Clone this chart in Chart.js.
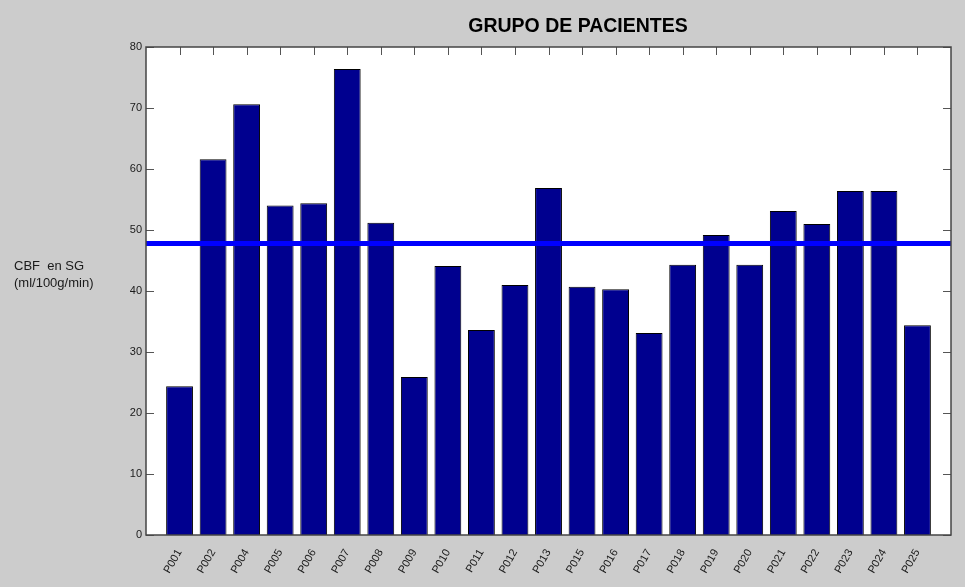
<!DOCTYPE html>
<html>
<head>
<meta charset="utf-8">
<title>Grupo de pacientes</title>
<script src="https://cdn.jsdelivr.net/npm/chart.js@4.4.1/dist/chart.umd.min.js"></script>
<style>
  html, body { margin: 0; padding: 0; background: #cccccc; }
  #wrap { width: 965px; height: 587px; position: relative; }
</style>
</head>
<body>
<div id="wrap"><canvas id="cbfchart"></canvas></div>
<script>
// data
var patients = ['P001', 'P002', 'P004', 'P005', 'P006', 'P007', 'P008', 'P009', 'P010', 'P011', 'P012', 'P013',
                'P015', 'P016', 'P017', 'P018', 'P019', 'P020', 'P021', 'P022', 'P023', 'P024', 'P025'];
var cbfValues = [24.4, 61.6, 70.6, 54.0, 54.4, 76.4, 51.2, 25.9, 44.1, 33.6, 41.0, 56.9,
                 40.7, 40.3, 33.1, 44.3, 49.2, 44.3, 53.1, 51.0, 56.4, 56.4, 34.4];
var meanCbf = 47.8;
var yTicks = [0, 10, 20, 30, 40, 50, 60, 70, 80];
var chartTitle = 'GRUPO DE PACIENTES';
var yLabel = ['CBF  en SG', '(ml/100g/min)'];

// blank slot at each end so the bars sit like xlim [0 24]
var labels = [''].concat(patients, ['']);
var barData = [null].concat(cbfValues, [null]);
var lineData = labels.map(function () { return meanCbf; });

// white plot area, inside ticks, frame, title and y label
var matlabLook = {
    id: 'matlabLook',
    beforeDraw: function (chart) {
        var a = chart.chartArea, ctx = chart.ctx;
        ctx.save();
        ctx.fillStyle = '#ffffff';
        ctx.fillRect(a.left, a.top, a.right - a.left, a.bottom - a.top);
        ctx.restore();
    },
    beforeDatasetsDraw: function (chart) {
        var a = chart.chartArea, ctx = chart.ctx;
        var x = chart.scales.x, y = chart.scales.y;
        ctx.save();
        ctx.strokeStyle = '#555555';
        ctx.lineWidth = 1;
        ctx.beginPath();
        yTicks.forEach(function (v) {
            var py = Math.round(y.getPixelForValue(v)) + 0.5;
            ctx.moveTo(a.left, py); ctx.lineTo(a.left + 8, py);
            ctx.moveTo(a.right, py); ctx.lineTo(a.right - 8, py);
        });
        patients.forEach(function (p, i) {
            var px = Math.round(x.getPixelForValue(i + 1)) + 0.5;
            ctx.moveTo(px, a.top); ctx.lineTo(px, a.top + 8);
            ctx.moveTo(px, a.bottom); ctx.lineTo(px, a.bottom - 8);
        });
        ctx.stroke();
        ctx.restore();
    },
    afterDatasetsDraw: function (chart) {
        var a = chart.chartArea, ctx = chart.ctx;
        ctx.save();
        ctx.strokeStyle = '#444444';
        ctx.lineWidth = 1.5;
        ctx.strokeRect(a.left, a.top, a.right - a.left, a.bottom - a.top);
        ctx.restore();
    },
    afterDraw: function (chart) {
        var ctx = chart.ctx;
        ctx.save();
        ctx.fillStyle = '#000000';
        ctx.font = 'bold 19.5px "Liberation Sans", Arial, sans-serif';
        ctx.textAlign = 'center';
        ctx.textBaseline = 'middle';
        ctx.fillText(chartTitle, 578, 27);
        ctx.fillStyle = '#1a1a1a';
        ctx.font = '13px "Liberation Sans", Arial, sans-serif';
        ctx.textAlign = 'left';
        ctx.fillText(yLabel[0], 14, 266);
        ctx.fillText(yLabel[1], 14, 283);
        ctx.restore();
    }
};

var ctx = document.getElementById('cbfchart');
var cbfChart = new Chart(ctx, {
    data: {
        labels: labels,
        datasets: [{
            type: 'line',
            data: lineData,
            borderColor: '#0000ff',
            borderWidth: 5,
            pointRadius: 0,
            fill: false,
            order: 0
        }, {
            type: 'bar',
            data: barData,
            backgroundColor: '#00008f',
            borderColor: '#000000',
            borderWidth: 1,
            barPercentage: 0.8,
            categoryPercentage: 1,
            order: 1
        }]
    },
    options: {
        responsive: true,
        maintainAspectRatio: false,
        animation: false,
        layout: {
            padding: { left: 0, top: 47, right: 14, bottom: 0 }
        },
        plugins: {
            legend: { display: false },
            title: { display: false },
            tooltip: { enabled: false }
        },
        scales: {
            x: {
                type: 'category',
                offset: false,
                grid: { display: false },
                border: { display: false },
                ticks: {
                    autoSkip: false,
                    minRotation: 60,
                    maxRotation: 60,
                    padding: 4,
                    color: '#1a1a1a',
                    font: { family: '"Liberation Sans", Arial, sans-serif', size: 11 }
                },
                afterFit: function (scale) {
                    scale.height = 52;
                    scale.paddingLeft = 0;
                    scale.paddingRight = 0;
                }
            },
            y: {
                min: 0,
                max: 80,
                grid: { display: false, drawTicks: false },
                border: { display: false },
                ticks: {
                    stepSize: 10,
                    padding: 4,
                    color: '#1a1a1a',
                    font: { family: '"Liberation Sans", Arial, sans-serif', size: 11 }
                },
                afterFit: function (scale) { scale.width = 146; }
            }
        }
    },
    plugins: [matlabLook]
});
</script>
</body>
</html>
